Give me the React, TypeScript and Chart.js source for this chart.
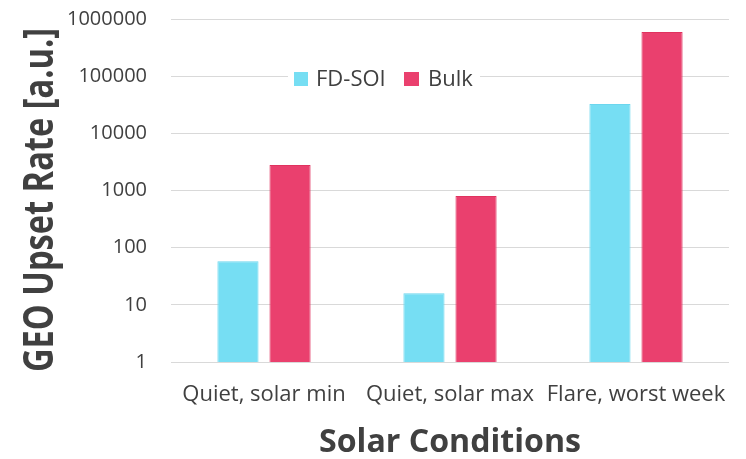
import React, { useEffect, useRef } from 'react';
import { Chart, registerables } from 'chart.js';
Chart.register(...registerables);

const categories = ['Quiet, solar min', 'Quiet, solar max', 'Flare, worst week'];
const seriesNames = ['FD-SOI', 'Bulk'];
const fdSoiValues = [58, 16, 32600];
const bulkValues = [2800, 800, 590000];
const yTickValues = [1, 10, 100, 1000, 10000, 100000, 1000000];
const xTitle = 'Solar Conditions';
const yTitle = 'GEO Upset Rate [a.u.]';

const CYAN = '#76DEF3';
const CYAN_BORDER = '#6CD6EE';
const RED = '#EA406E';
const RED_BORDER = '#E0335F';
const TEXT = '#404040';

function drawFitted(ctx: CanvasRenderingContext2D, text: string, font: string, x: number, y: number, w: number, rotate: boolean) {
  ctx.save();
  ctx.font = font;
  const m = ctx.measureText(text).width;
  ctx.translate(x, y);
  if (rotate) ctx.rotate(-Math.PI / 2);
  ctx.scale(w / m, 1);
  ctx.textAlign = 'center';
  ctx.textBaseline = 'alphabetic';
  ctx.fillStyle = TEXT;
  ctx.fillText(text, 0, 0);
  ctx.restore();
}

const overlayPlugin = {
  id: 'overlay',
  afterDraw(chart: any) {
    const ctx: CanvasRenderingContext2D = chart.ctx;
    // axis titles
    drawFitted(ctx, yTitle, 'bold 42px "Open Sans"', 53, 200, 344, true);
    drawFitted(ctx, xTitle, 'bold 32px "Open Sans"', 450, 452, 262, false);
    // legend
    ctx.save();
    ctx.fillStyle = '#ffffff';
    ctx.fillRect(288, 64, 192, 28);
    ctx.fillStyle = CYAN;
    ctx.fillRect(294, 72, 14, 14);
    ctx.fillStyle = RED;
    ctx.fillRect(404, 72, 15, 14);
    ctx.font = '22px "Open Sans"';
    ctx.fillStyle = TEXT;
    ctx.textAlign = 'left';
    ctx.textBaseline = 'alphabetic';
    ctx.fillText(seriesNames[0], 316, 86);
    ctx.fillText(seriesNames[1], 428, 86);
    ctx.restore();
  },
};

export default function App() {
  const ref = useRef<HTMLCanvasElement | null>(null);
  useEffect(() => {
    let chart: any = null;
    let cancelled = false;
    const make = () => {
      if (cancelled || !ref.current) return;
      chart = new Chart(ref.current, {
        type: 'bar',
        data: {
          labels: categories,
          datasets: [
            {
              label: seriesNames[0],
              data: fdSoiValues,
              backgroundColor: CYAN,
              borderColor: CYAN_BORDER,
              borderWidth: 1,
              barPercentage: 0.79,
              categoryPercentage: 0.56,
            },
            {
              label: seriesNames[1],
              data: bulkValues,
              backgroundColor: RED,
              borderColor: RED_BORDER,
              borderWidth: 1,
              barPercentage: 0.79,
              categoryPercentage: 0.56,
            },
          ],
        },
        options: {
          responsive: false,
          animation: false,
          layout: { padding: { top: 19, right: 17, left: 0, bottom: 0 } },
          plugins: {
            legend: { display: false },
            tooltip: { enabled: false },
          },
          scales: {
            x: {
              grid: { display: false, drawTicks: false },
              border: { display: false },
              ticks: {
                font: { family: 'Open Sans', size: 22 },
                color: TEXT,
                padding: 20,
                maxRotation: 0,
                autoSkip: false,
              },
              afterFit: (s: any) => {
                s.height = 97;
                s.paddingLeft = 0;
                s.paddingRight = 0;
              },
            },
            y: {
              type: 'logarithmic',
              min: 1,
              max: 1000000,
              afterBuildTicks: (s: any) => {
                s.ticks = yTickValues.map((v) => ({ value: v }));
              },
              grid: { color: '#d9d9d9', lineWidth: 1, drawTicks: false },
              border: { display: false },
              ticks: {
                font: { family: 'Open Sans', size: 20 },
                color: TEXT,
                padding: 24,
                callback: (v: any) => String(v),
              },
              afterFit: (s: any) => {
                s.width = 171;
                s.paddingTop = 0;
                s.paddingBottom = 0;
              },
            },
          },
        },
        plugins: [overlayPlugin],
      } as any);
    };
    const fonts: any = (document as any).fonts;
    if (fonts && fonts.load) {
      Promise.all([
        fonts.load('20px "Open Sans"'),
        fonts.load('bold 32px "Open Sans"'),
      ]).then(make, make);
    } else {
      make();
    }
    return () => {
      cancelled = true;
      if (chart) chart.destroy();
    };
  }, []);
  return (
    <div style={{ position: 'absolute', left: 0, top: 0, width: 746, height: 459, background: '#fff' }}>
      <canvas ref={ref} width={746} height={459} style={{ display: 'block' }} />
    </div>
  );
}
